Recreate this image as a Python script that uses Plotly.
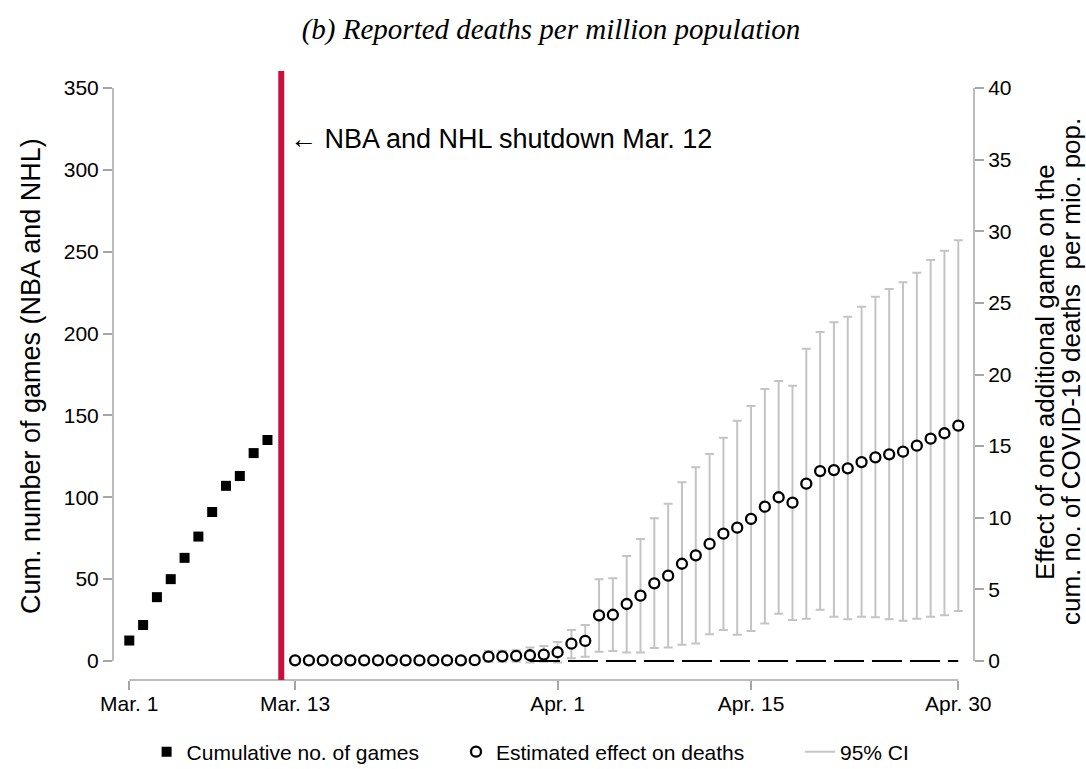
import plotly.graph_objects as go

# ---------------- data ----------------
game_dates = ["2020-03-01", "2020-03-02", "2020-03-03", "2020-03-04", "2020-03-05",
              "2020-03-06", "2020-03-07", "2020-03-08", "2020-03-09", "2020-03-10",
              "2020-03-11"]
cum_games = [12.5, 22, 39, 50, 63, 76, 91, 107, 113, 127, 135]

effect_dates = ["2020-03-13", "2020-03-14", "2020-03-15", "2020-03-16", "2020-03-17",
                "2020-03-18", "2020-03-19", "2020-03-20", "2020-03-21", "2020-03-22",
                "2020-03-23", "2020-03-24", "2020-03-25", "2020-03-26", "2020-03-27",
                "2020-03-28", "2020-03-29", "2020-03-30", "2020-03-31", "2020-04-01",
                "2020-04-02", "2020-04-03", "2020-04-04", "2020-04-05", "2020-04-06",
                "2020-04-07", "2020-04-08", "2020-04-09", "2020-04-10", "2020-04-11",
                "2020-04-12", "2020-04-13", "2020-04-14", "2020-04-15", "2020-04-16",
                "2020-04-17", "2020-04-18", "2020-04-19", "2020-04-20", "2020-04-21",
                "2020-04-22", "2020-04-23", "2020-04-24", "2020-04-25", "2020-04-26",
                "2020-04-27", "2020-04-28", "2020-04-29", "2020-04-30"]
effect = [0.05, 0.05, 0.05, 0.05, 0.05, 0.05, 0.05, 0.05, 0.05, 0.05,
          0.05, 0.05, 0.05, 0.06, 0.30, 0.33, 0.36, 0.40, 0.45, 0.61,
          1.21, 1.40, 3.19, 3.23, 3.98, 4.56, 5.42, 5.96, 6.79, 7.38,
          8.17, 8.89, 9.31, 9.92, 10.77, 11.43, 11.05, 12.38, 13.26, 13.33,
          13.45, 13.89, 14.22, 14.43, 14.61, 15.03, 15.52, 15.90, 16.43]
ci_low = [0.00, 0.00, 0.00, 0.00, -0.05, -0.05, -0.05, -0.05, -0.05, -0.05,
          -0.05, -0.05, -0.05, -0.05, -0.05, -0.05, -0.05, -0.10, -0.05, -0.10,
          0.19, 0.30, 0.65, 0.70, 0.60, 0.60, 0.91, 0.95, 1.14, 1.23,
          1.86, 2.16, 1.84, 2.09, 2.61, 3.30, 2.86, 2.95, 3.58, 3.09,
          2.91, 3.09, 3.05, 2.91, 2.81, 2.95, 3.09, 3.19, 3.49]
ci_high = [0.10, 0.10, 0.10, 0.10, 0.15, 0.15, 0.15, 0.15, 0.15, 0.15,
           0.15, 0.15, 0.15, 0.18, 0.70, 0.72, 0.75, 0.95, 1.05, 1.33,
           2.16, 2.51, 5.70, 5.77, 7.33, 8.52, 9.96, 10.98, 12.47, 13.52,
           14.45, 15.59, 16.78, 17.80, 18.99, 19.55, 19.22, 21.80, 22.97, 23.64,
           24.04, 24.73, 25.43, 25.97, 26.44, 27.11, 28.00, 28.64, 29.37]

zero_line_dates = ["2020-03-30", "2020-04-30"]
zero_line_vals = [0, 0]

shutdown_date = "2020-03-12"
x_tick_vals = ["2020-03-01", "2020-03-13", "2020-04-01", "2020-04-15", "2020-04-30"]
x_tick_text = ["Mar. 1", "Mar. 13", "Apr. 1", "Apr. 15", "Apr. 30"]
left_ticks = [0, 50, 100, 150, 200, 250, 300, 350]
right_ticks = [0, 5, 10, 15, 20, 25, 30, 35, 40]

# ---------------- styles ----------------
FONT = "Liberation Sans, Arial, sans-serif"
AXIS_GREY = "#a6a6a6"
CI_GREY = "#c4c4c4"
RED = "#c8103e"
TICK_FONT = dict(size=21, color="black", family=FONT)

err_plus = [h - e for h, e in zip(ci_high, effect)]
err_minus = [e - l for e, l in zip(effect, ci_low)]

fig = go.Figure()

# games (left axis)
fig.add_trace(go.Scatter(
    x=game_dates, y=cum_games, mode="markers", name="Cumulative no. of games",
    marker=dict(symbol="square", size=10, color="black"),
    yaxis="y", legend="legend", cliponaxis=False))

# CI (right axis)
fig.add_trace(go.Scatter(
    x=effect_dates, y=effect, mode="markers", showlegend=False,
    marker=dict(size=1, color="rgba(0,0,0,0)"),
    error_y=dict(type="data", array=err_plus, arrayminus=err_minus,
                 color=CI_GREY, thickness=2, width=4.5),
    yaxis="y2", hoverinfo="skip"))

# zero reference line
fig.add_trace(go.Scatter(
    x=zero_line_dates, y=zero_line_vals, mode="lines", showlegend=False,
    line=dict(color="black", width=1.8, dash="30px,8px"), yaxis="y2"))

# estimated effects
fig.add_trace(go.Scatter(
    x=effect_dates, y=effect, mode="markers", name="Estimated effect on deaths",
    marker=dict(symbol="circle", size=10, color="white",
                line=dict(color="black", width=2.3)),
    yaxis="y2", legend="legend2", cliponaxis=False))

# legend entry for CI
fig.add_trace(go.Scatter(
    x=[None], y=[None], mode="lines", name="95% CI",
    line=dict(color=CI_GREY, width=2), yaxis="y2", legend="legend3"))

LEG_Y = 1 - 752 / 769
fig.update_layout(
    width=1086, height=769,
    margin=dict(l=113, r=112, t=71, b=89),
    paper_bgcolor="white", plot_bgcolor="white",
    font=dict(family=FONT, color="black", size=20),
    title=dict(text="(b) Reported deaths per million population",
               font=dict(family="Liberation Serif, Times New Roman, serif",
                         size=29, style="italic", color="black"),
               x=551 / 1086, xref="container", xanchor="center",
               y=1 - 29 / 769, yref="container", yanchor="middle"),
    xaxis=dict(type="date",
               range=["2020-02-28 19:42", "2020-05-01 03:18"],
               tickvals=x_tick_vals, ticktext=x_tick_text,
               showgrid=False, zeroline=False, showline=False,
               ticks="outside", ticklen=9, tickwidth=1.5, tickcolor=AXIS_GREY,
               ticklabelstandoff=-4, tickfont=TICK_FONT),
    yaxis=dict(range=[-11.606, 360.38], tickvals=left_ticks,
               showgrid=False, zeroline=False, showline=False,
               ticks="outside", ticklen=9, tickwidth=1.5, tickcolor=AXIS_GREY,
               tickfont=TICK_FONT),
    yaxis2=dict(range=[-1.326, 41.187], tickvals=right_ticks,
                overlaying="y", side="right",
                showgrid=False, zeroline=False, showline=False,
                ticks="outside", ticklen=9, tickwidth=1.5, tickcolor=AXIS_GREY,
                tickfont=TICK_FONT),
    legend=dict(orientation="h", xref="container", yref="container",
                x=0.135, y=LEG_Y, xanchor="left", yanchor="middle",
                font=dict(size=21), bgcolor="rgba(0,0,0,0)"),
    legend2=dict(orientation="h", xref="container", yref="container",
                 x=456 / 1086, y=LEG_Y, xanchor="left", yanchor="middle",
                 font=dict(size=21), bgcolor="rgba(0,0,0,0)"),
    legend3=dict(orientation="h", xref="container", yref="container",
                 x=800 / 1086, y=LEG_Y, xanchor="left", yanchor="middle",
                 font=dict(size=21), bgcolor="rgba(0,0,0,0)"),
    showlegend=True,
)

# axis lines spanning only the tick range
fig.add_shape(type="line", xref="x", yref="paper",
              x0=x_tick_vals[0], x1=x_tick_vals[-1], y0=0, y1=0,
              line=dict(color=AXIS_GREY, width=1.5))
fig.add_shape(type="line", xref="paper", yref="y",
              x0=0, x1=0, y0=left_ticks[0], y1=left_ticks[-1],
              line=dict(color=AXIS_GREY, width=1.5))
fig.add_shape(type="line", xref="paper", yref="y2",
              x0=1, x1=1, y0=right_ticks[0], y1=right_ticks[-1],
              line=dict(color=AXIS_GREY, width=1.5))

# shutdown line
fig.add_shape(type="line", xref="x", yref="paper",
              x0=shutdown_date, x1=shutdown_date, y0=0, y1=1,
              line=dict(color=RED, width=6), layer="above")

fig.add_annotation(text="\u2190 NBA and NHL shutdown Mar. 12",
                   xref="x", x=shutdown_date, xshift=7, xanchor="left",
                   yref="paper", y=(680 - 139) / 609, yanchor="middle",
                   showarrow=False, font=dict(size=27, family=FONT))

fig.add_annotation(text="Cum. number of games (NBA and NHL)",
                   xref="paper", x=(31 - 113) / 861, xanchor="center",
                   yref="paper", y=(680 - 376) / 609, yanchor="middle",
                   textangle=-90, showarrow=False,
                   font=dict(size=27, family=FONT))

fig.add_annotation(text="Effect of one additional game on the",
                   xref="paper", x=(1045 - 113) / 861, xanchor="center",
                   yref="paper", y=(680 - 372) / 609, yanchor="middle",
                   textangle=-90, showarrow=False,
                   font=dict(size=26, family=FONT))
fig.add_annotation(text="cum. no. of COVID-19 deaths  per mio. pop.",
                   xref="paper", x=(1071 - 113) / 861, xanchor="center",
                   yref="paper", y=(680 - 372) / 609, yanchor="middle",
                   textangle=-90, showarrow=False,
                   font=dict(size=26, family=FONT))

fig.write_html("out.html",
               config={"displayModeBar": False},
               post_script="document.body.style.margin='0';document.body.style.overflow='hidden';")
